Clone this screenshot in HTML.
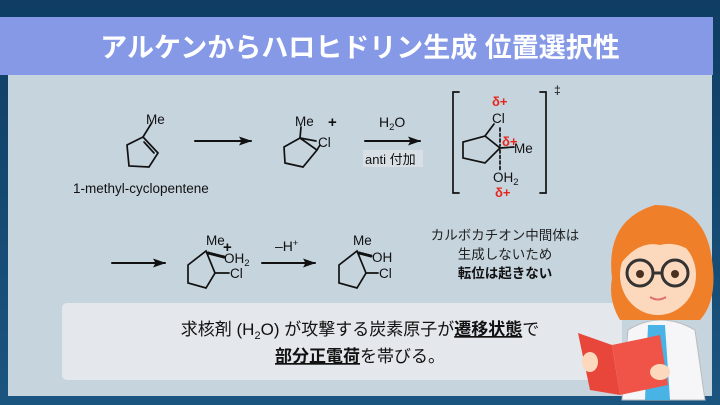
<!DOCTYPE html>
<html><head><meta charset="utf-8"><style>
html,body{margin:0;padding:0;width:720px;height:405px;overflow:hidden;background:#164469}
svg{display:block}
text{font-family:"Liberation Sans","Noto Sans CJK JP",sans-serif}
</style></head><body>
<svg width="720" height="405" viewBox="0 0 720 405">
<defs>
<linearGradient id="bg" x1="0" y1="0" x2="0" y2="1"><stop offset="0" stop-color="#0f3d63"/><stop offset="1" stop-color="#1a5580"/></linearGradient>
<marker id="ah" markerWidth="13" markerHeight="9" refX="12" refY="4.5" orient="auto" markerUnits="userSpaceOnUse"><path d="M0,0 L13,4.5 L0,9 L2.5,4.5 Z" fill="#111"/></marker>
</defs>
<rect width="720" height="405" fill="url(#bg)"/>
<rect x="8" y="70" width="704" height="326" fill="#c6d4de"/>
<rect x="0" y="17" width="713" height="58" fill="#8599e6"/>
<text x="360" y="57" text-anchor="middle" font-size="27" font-weight="bold" fill="#fff">アルケンからハロヒドリン生成 位置選択性</text>

<g stroke="#111" stroke-width="1.7" fill="none" stroke-linecap="round">
<polygon points="143,137 158,153 149,167 129,166 127,145"/>
<line x1="144" y1="142" x2="154" y2="153"/>
<line x1="143" y1="137" x2="151" y2="124"/>
<line x1="195" y1="141" x2="251" y2="141" stroke-width="2" marker-end="url(#ah)"/>
<polygon points="300,138 317,150 303,167 285,163 284,147"/>
<line x1="300" y1="138" x2="316" y2="141"/>
<line x1="317" y1="150" x2="320" y2="145"/>
<line x1="300" y1="138" x2="301" y2="127"/>
<line x1="365" y1="141" x2="420" y2="141" stroke-width="2" marker-end="url(#ah)"/>
<polyline points="459,92 453,92 453,193 459,193"/>
<polyline points="540,92 546,92 546,193 540,193"/>
<polygon points="485,136 500,148 485,163 463,158 463,142"/>
<line x1="485" y1="136" x2="494" y2="124"/>
<line x1="500" y1="148" x2="514" y2="147"/>
<line x1="500" y1="128" x2="500" y2="146" stroke-dasharray="3,2.5"/>
<line x1="500" y1="150" x2="500" y2="170" stroke-dasharray="3,2.5"/>
<line x1="112" y1="263" x2="165" y2="263" stroke-width="2" marker-end="url(#ah)"/>
<polygon points="206,251 215,273 206,288 188,283 188,265"/>
<line x1="215" y1="273" x2="229" y2="273"/>
<line x1="208" y1="253" x2="224" y2="257" stroke-dasharray="1.5,1.5" stroke-width="3"/>
<line x1="262" y1="263" x2="315" y2="263" stroke-width="2" marker-end="url(#ah)"/>
<polygon points="357,251 366,273 357,288 339,283 339,265"/>
<line x1="366" y1="273" x2="378" y2="273"/>
<line x1="359" y1="253" x2="371" y2="256" stroke-dasharray="1.5,1.5" stroke-width="3"/>
</g>
<g fill="#111" font-size="13.5">
<text x="146" y="124">Me</text>
<text x="73" y="193" font-size="13.5">1-methyl-cyclopentene</text>
<text x="295" y="126">Me</text>
<text x="318" y="147">Cl</text>
<text x="328" y="127" font-size="15" font-weight="bold">+</text>
<text x="379" y="127" font-size="14">H<tspan font-size="9.5" dy="3">2</tspan><tspan dy="-3">O</tspan></text>
<rect x="363" y="150" width="60" height="17" fill="#d8e0e6"/>
<text x="365" y="164" font-size="13">anti 付加</text>
<text x="554" y="94" font-size="12">‡</text>
<text x="492" y="123">Cl</text>
<text x="514" y="153">Me</text>
<text x="493" y="182">OH<tspan font-size="9.5" dy="3">2</tspan></text>
<g fill="#e8251b" font-weight="bold" font-size="13"><text x="492" y="106">δ+</text><text x="502" y="146">δ+</text><text x="495" y="197">δ+</text></g>
<text x="206" y="245">Me</text>
<text x="223" y="252" font-size="15" font-weight="bold">+</text>
<text x="224" y="263">OH<tspan font-size="9.5" dy="3">2</tspan></text>
<text x="230" y="278">Cl</text>
<text x="275" y="251" font-size="14">–H<tspan font-size="9" dy="-5">+</tspan></text>
<text x="353" y="245">Me</text>
<text x="372" y="262">OH</text>
<text x="379" y="278">Cl</text>
<text x="505" y="240" text-anchor="middle" font-size="13.5" fill="#222">カルボカチオン中間体は</text>
<text x="505" y="259" text-anchor="middle" font-size="13.5" fill="#222">生成しないため</text>
<text x="505" y="278" text-anchor="middle" font-size="13.5" font-weight="bold">転位は起きない</text>
</g>
<rect x="62" y="303" width="560" height="77" rx="5" fill="#e4e8ec"/>
<g font-size="17" fill="#111">
<text x="360" y="335" text-anchor="middle">求核剤 (H<tspan font-size="11" dy="4">2</tspan><tspan dy="-4">O) が攻撃する炭素原子が</tspan><tspan font-weight="bold" text-decoration="underline">遷移状態</tspan>で</text>
<text x="360" y="362" text-anchor="middle"><tspan font-weight="bold" text-decoration="underline">部分正電荷</tspan>を帯びる。</text>
</g>
<path d="M622,400 L628,330 Q660,310 695,330 L705,400 Z" fill="#f6f6f8" stroke="#bbb"/>
<path d="M648,325 L665,325 L670,400 L645,400 Z" fill="#4ab3e6"/>
<path d="M612,278 Q605,220 655,205 Q705,205 712,260 Q718,300 700,320 L620,320 Q608,300 612,278 Z" fill="#f07f2a"/>
<ellipse cx="658" cy="275" rx="38" ry="40" fill="#fcd9bd"/>
<path d="M622,262 Q630,225 660,222 Q695,225 700,258 Q680,240 660,245 Q640,240 622,262 Z" fill="#f07f2a"/>
<circle cx="640" cy="273" r="13" fill="none" stroke="#333" stroke-width="3"/>
<circle cx="675" cy="273" r="13" fill="none" stroke="#333" stroke-width="3"/>
<line x1="653" y1="273" x2="662" y2="273" stroke="#333" stroke-width="3"/>
<circle cx="640" cy="274" r="4" fill="#4a3020"/>
<circle cx="675" cy="274" r="4" fill="#4a3020"/>
<path d="M650,297 Q658,302 666,297" stroke="#e0706a" stroke-width="2" fill="none"/>
<path d="M578,333 L612,345 L620,395 L590,390 Z" fill="#e8463a"/>
<path d="M612,345 L660,335 L668,385 L620,395 Z" fill="#f05448"/>
<ellipse cx="590" cy="362" rx="8" ry="10" fill="#fcd9bd"/>
<ellipse cx="660" cy="372" rx="10" ry="8" fill="#fcd9bd"/>
</svg>
</body></html>
